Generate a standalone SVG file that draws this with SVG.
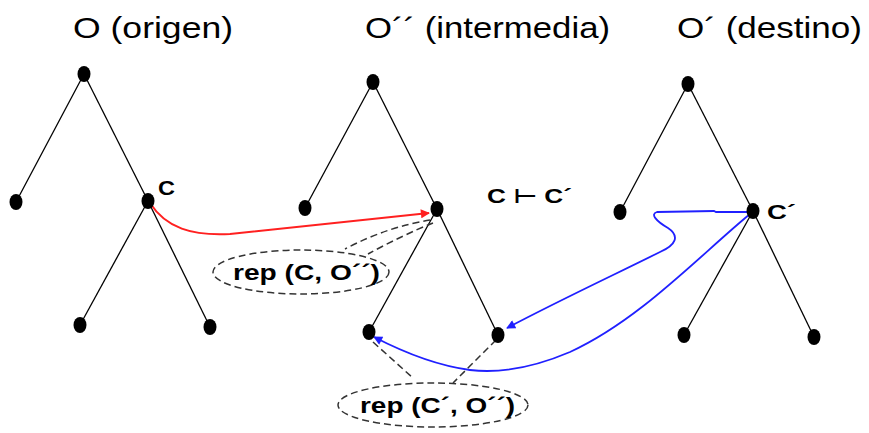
<svg xmlns="http://www.w3.org/2000/svg" width="869" height="433" viewBox="0 0 869 433">
<style>
.title{font-family:"Liberation Sans",Arial,sans-serif;font-size:30px;fill:#000}
.lbl{font-family:"Liberation Sans","DejaVu Sans",Arial,sans-serif;font-size:20px;font-weight:bold;fill:#000}
.rep{font-family:"Liberation Sans",Arial,sans-serif;font-size:22px;font-weight:bold;fill:#000}
.dot{fill:#000}
.edge{stroke:#000;stroke-width:1.3;fill:none}
.dash{stroke:#333;stroke-width:1.5;fill:none;stroke-dasharray:7,4}
.red{stroke:#ff2020;stroke-width:2;fill:none}
.blue{stroke:#2020ff;stroke-width:1.8;fill:none}
</style>
<defs>
<marker id="ar" viewBox="0 0 10 10" refX="9" refY="5" markerWidth="11" markerHeight="9" orient="auto" markerUnits="userSpaceOnUse"><path d="M0,0 L10,5 L0,10 z" fill="#ff2020"/></marker>
<marker id="ab" viewBox="0 0 10 10" refX="9" refY="5" markerWidth="11" markerHeight="9" orient="auto" markerUnits="userSpaceOnUse"><path d="M0,0 L10,5 L0,10 z" fill="#2020ff"/></marker>
</defs>
<rect width="869" height="433" fill="#fff"/>

<g id="titles">
<text class="title" x="73" y="38" textLength="160" lengthAdjust="spacingAndGlyphs">O (origen)</text>
<text class="title" x="365" y="38" textLength="245" lengthAdjust="spacingAndGlyphs">O´´ (intermedia)</text>
<text class="title" x="677" y="38" textLength="185" lengthAdjust="spacingAndGlyphs">O´ (destino)</text>
</g>

<g id="connectors">
<line class="edge" x1="84" y1="74" x2="16" y2="202"/>
<line class="edge" x1="84" y1="74" x2="148" y2="201"/>
<line class="edge" x1="148" y1="201" x2="80" y2="325"/>
<line class="edge" x1="148" y1="201" x2="210" y2="327"/>
<line class="edge" x1="373" y1="82" x2="305" y2="208"/>
<line class="edge" x1="373" y1="82" x2="437" y2="209"/>
<line class="edge" x1="437" y1="209" x2="369" y2="332"/>
<line class="edge" x1="437" y1="209" x2="498" y2="335"/>
<line class="edge" x1="688" y1="84" x2="620" y2="212"/>
<line class="edge" x1="688" y1="84" x2="753" y2="211"/>
<line class="edge" x1="753" y1="211" x2="684" y2="335"/>
<line class="edge" x1="753" y1="211" x2="814" y2="337"/>
<path class="red" d="M150,203 C166,228 192,236 230,234 L429,213" marker-end="url(#ar)"/>
<path class="dash" d="M430,220 C405,224 375,233 345,249"/>
<path class="dash" d="M433,223 C415,230 390,242 368,254"/>
<path class="blue" d="M750,212 L716,212 L714,211 L657,212 C650,214 656,221 668,228 C680,236 676,245 660,252 C620,272 560,300 507,328" marker-end="url(#ab)"/>
<path class="blue" d="M750,214 C700,255 640,320 570,352 C530,369 495,373 470,370 C440,366 405,353 374,337" marker-end="url(#ab)"/>
<path class="dash" d="M373,342 L413,378"/>
<path class="dash" d="M496,340 L453,383"/>
</g>

<g id="tree1">
<g id="o-root"><ellipse class="dot" cx="84" cy="74" rx="6.5" ry="8"/></g>
<g id="o-left"><ellipse class="dot" cx="16" cy="202" rx="6.5" ry="8"/></g>
<g id="o-c"><ellipse class="dot" cx="148" cy="201" rx="6.5" ry="8"/><text class="lbl" x="158" y="195" textLength="17" lengthAdjust="spacingAndGlyphs">C</text></g>
<g id="o-ll"><ellipse class="dot" cx="80" cy="325" rx="6.5" ry="8"/></g>
<g id="o-lr"><ellipse class="dot" cx="210" cy="327" rx="6.5" ry="8"/></g>
</g>

<g id="tree2">
<g id="i-root"><ellipse class="dot" cx="373" cy="82" rx="6.5" ry="8"/></g>
<g id="i-left"><ellipse class="dot" cx="305" cy="208" rx="6.5" ry="8"/></g>
<g id="i-c"><ellipse class="dot" cx="437" cy="209" rx="6.5" ry="8"/></g>
<g id="i-ll"><ellipse class="dot" cx="369" cy="332" rx="6.5" ry="8"/></g>
<g id="i-lr"><ellipse class="dot" cx="498" cy="335" rx="6.5" ry="8"/></g>
</g>

<g id="tree3">
<g id="d-root"><ellipse class="dot" cx="688" cy="84" rx="6.5" ry="8"/></g>
<g id="d-left"><ellipse class="dot" cx="620" cy="212" rx="6.5" ry="8"/></g>
<g id="d-c"><ellipse class="dot" cx="753" cy="211" rx="6.5" ry="8"/><text class="lbl" x="767" y="219" textLength="29" lengthAdjust="spacingAndGlyphs">C´</text></g>
<g id="d-ll"><ellipse class="dot" cx="684" cy="335" rx="6.5" ry="8"/></g>
<g id="d-lr"><ellipse class="dot" cx="814" cy="337" rx="6.5" ry="8"/></g>
</g>

<g id="relation"><text class="lbl" x="487" y="203" textLength="85" lengthAdjust="spacingAndGlyphs">C ⊢ C´</text></g>

<g id="rep1">
<ellipse class="dash" cx="301" cy="272" rx="88" ry="22"/>
<text class="rep" x="233" y="280" textLength="147" lengthAdjust="spacingAndGlyphs">rep (C, O´´)</text>
</g>
<g id="rep2">
<ellipse class="dash" cx="433" cy="405" rx="95" ry="22"/>
<text class="rep" x="360" y="413" textLength="155" lengthAdjust="spacingAndGlyphs">rep (C´, O´´)</text>
</g>
</svg>
